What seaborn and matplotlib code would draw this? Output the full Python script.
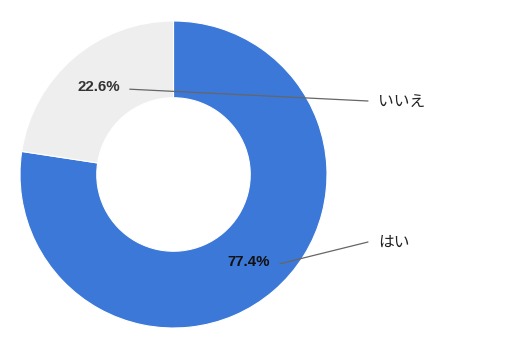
import matplotlib
matplotlib.use("Agg")
import matplotlib.pyplot as plt
import seaborn as sns

sns.set_theme(style="white")
plt.rcParams['font.family'] = ['Liberation Sans', 'Noto Sans CJK JP', 'DejaVu Sans']

categories = ["はい", "いいえ"]
values = [77.4, 22.6]
colors = ["#3c78d8", "#eeeeee"]
pct_colors = ["#111111", "#333333"]

W, H = 527, 346
fig = plt.figure(figsize=(W / 100, H / 100), dpi=100)
ax = fig.add_axes([0, 0, 1, 1])
ax.set_xlim(0, W)
ax.set_ylim(0, H)
ax.set_aspect("equal")
ax.axis("off")

cx, cy = 173.5, H - 174.5
R = 153.5
wedges, texts, autotexts = ax.pie(
    values, colors=colors, startangle=90, counterclock=False,
    center=(cx, cy), radius=R, autopct="%.1f%%", pctdistance=0.75,
    wedgeprops=dict(width=R * 0.5, edgecolor="white", linewidth=0.8),
    textprops=dict(fontsize=10.8, fontweight="bold"), frame=True)
ax.set_xlim(0, W)
ax.set_ylim(0, H)
ax.axis("off")
for t, c in zip(autotexts, pct_colors):
    t.set_color(c)

fig.canvas.draw()
renderer = fig.canvas.get_renderer()
label_y = {"はい": H - 242, "いいえ": H - 101}
for t, cat in zip(autotexts, categories):
    bb = t.get_window_extent(renderer).transformed(ax.transData.inverted())
    x0 = bb.x1 + 10
    y0 = t.get_position()[1] - 2
    ly = label_y[cat]
    ax.plot([x0, 368], [y0, ly], color="#666666", lw=0.9, zorder=5)
    ax.text(378, ly, cat, fontsize=11.3, color="#222222", va="center", ha="left")

fig.savefig("out.png", dpi=100)
